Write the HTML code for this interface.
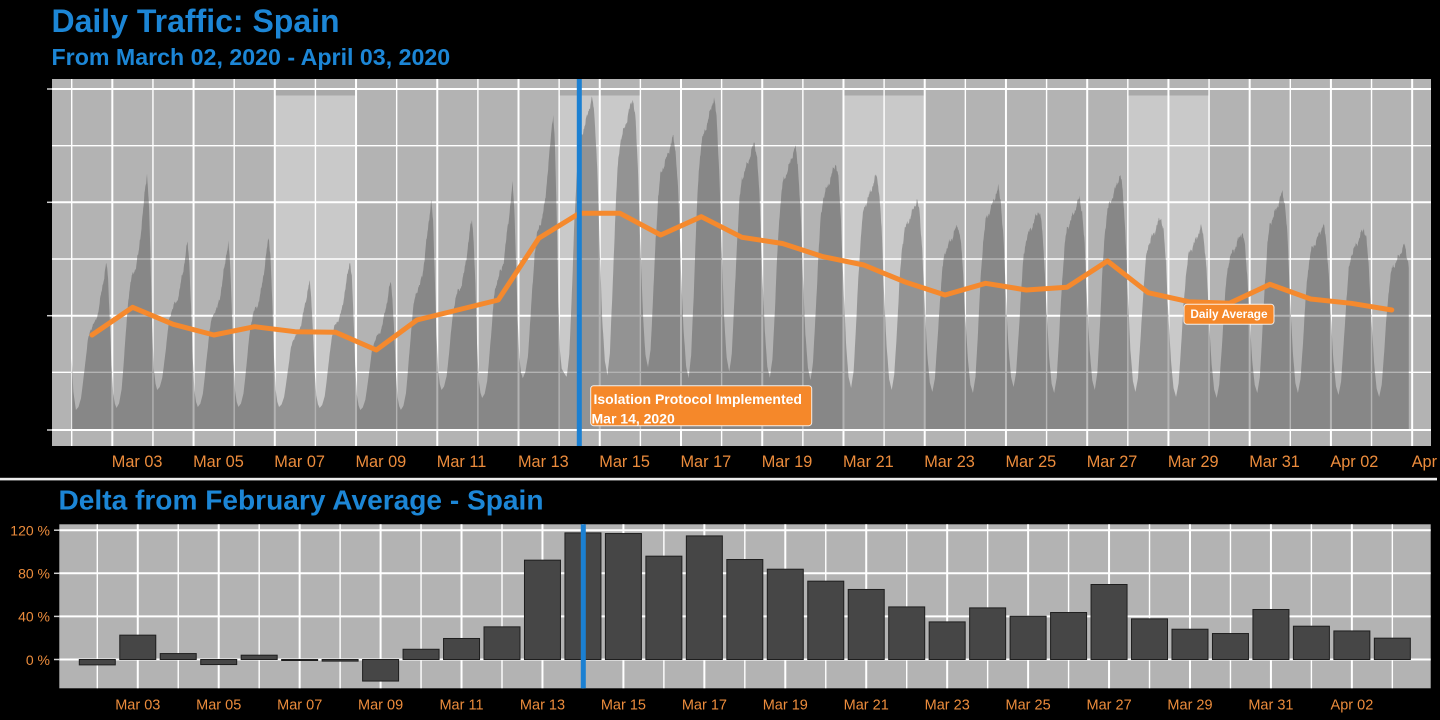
<!DOCTYPE html>
<html>
<head>
<meta charset="utf-8">
<style>
  html,body{margin:0;padding:0;background:#000;}
  body{width:1440px;height:720px;overflow:hidden;}
  svg{display:block;}
  text{font-family:"Liberation Sans",Arial,sans-serif;}
</style>
</head>
<body>
<svg id="s" width="1440" height="720" viewBox="0 0 1440 720" xmlns="http://www.w3.org/2000/svg">
  <rect x="0" y="0" width="1440" height="720" fill="#000"/>

  <!-- Titles -->
  <text x="51.5" y="32" font-size="32" font-weight="bold" fill="#1c86d6">Daily Traffic: Spain</text>
  <text x="51.5" y="65" font-size="23.2" font-weight="bold" fill="#1c86d6">From March 02, 2020 - April 03, 2020</text>

  <!-- Top panel -->
  <rect x="52" y="79" width="1379" height="367" fill="#b3b3b3"/>
  <g id="topg"></g>

  <!-- Daily average line -->
  <polyline fill="none" stroke="#f5892d" stroke-width="5" stroke-linejoin="round" stroke-linecap="round"
    points="92,335 132.6,307.3 173.2,324.3 213.9,335 254.5,326.7 295.1,331.7 335.7,332.3 376.3,350 417,320 457.6,310 498.2,300 538.8,238.3 579.4,213.3 620,213.3 660.7,235 701.3,216.7 741.9,237.3 782.5,243.5 823.2,256.7 863.8,265 904.4,281.7 945,295 985.6,283.3 1026.3,290 1066.9,287.3 1107.5,261 1148.1,292.7 1188.7,301.7 1229.4,303.3 1270,284.3 1310.6,299 1351.2,303.3 1391.8,310"/>

  <!-- Isolation line top -->
  <rect x="576.8" y="79" width="5" height="367" fill="#1b80d2"/>

  <!-- Annotation -->
  <rect x="590.7" y="385.7" width="221" height="40" rx="3" ry="3" fill="#f5882a" stroke="#ffffff" stroke-opacity="0.85" stroke-width="1"/>
  <text x="593.5" y="404" font-size="14" font-weight="bold" fill="#ffffff">Isolation Protocol Implemented</text>
  <text x="591.5" y="423.3" font-size="14" font-weight="bold" fill="#ffffff">Mar 14, 2020</text>

  <rect x="1184" y="304.3" width="90" height="20" rx="3" ry="3" fill="#f5882a" stroke="#ffffff" stroke-opacity="0.85" stroke-width="1"/>
  <text x="1229" y="318.2" font-size="11.8" font-weight="bold" fill="#ffffff" text-anchor="middle">Daily Average</text>

  <!-- Top x labels -->
  <g font-size="16.3" fill="#ec8c3c">
    <text x="111.8" y="467">Mar 03</text>
    <text x="193.1" y="467">Mar 05</text>
    <text x="274.3" y="467">Mar 07</text>
    <text x="355.5" y="467">Mar 09</text>
    <text x="436.8" y="467">Mar 11</text>
    <text x="518" y="467">Mar 13</text>
    <text x="599.3" y="467">Mar 15</text>
    <text x="680.5" y="467">Mar 17</text>
    <text x="761.7" y="467">Mar 19</text>
    <text x="843" y="467">Mar 21</text>
    <text x="924.2" y="467">Mar 23</text>
    <text x="1005.5" y="467">Mar 25</text>
    <text x="1086.7" y="467">Mar 27</text>
    <text x="1167.9" y="467">Mar 29</text>
    <text x="1249.2" y="467">Mar 31</text>
    <text x="1330.4" y="467">Apr 02</text>
    <text x="1411.7" y="467">Apr 04</text>
  </g>

  <!-- Separator -->
  <rect x="0" y="477.8" width="1437" height="2.6" fill="#ececec"/>

  <!-- Bottom title -->
  <text x="58.5" y="509.5" font-size="28.1" font-weight="bold" fill="#1c86d6">Delta from February Average - Spain</text>

  <!-- Bottom panel -->
  <rect x="59.3" y="524.3" width="1371.4" height="164" fill="#b3b3b3"/>
  <g id="botg"></g>
  <rect x="580.8" y="524.3" width="5" height="164" fill="#1b80d2"/>

  <!-- Bottom y labels -->
  <g font-size="14" fill="#ec8c3c" text-anchor="end">
    <text x="50" y="535.5">120 %</text>
    <text x="50" y="578.6">80 %</text>
    <text x="50" y="621.7">40 %</text>
    <text x="50" y="664.8">0 %</text>
  </g>

  <!-- Bottom x labels -->
  <g font-size="14.5" fill="#ec8c3c" text-anchor="middle">
    <text x="137.8" y="709.5">Mar 03</text>
    <text x="218.7" y="709.5">Mar 05</text>
    <text x="299.7" y="709.5">Mar 07</text>
    <text x="380.6" y="709.5">Mar 09</text>
    <text x="461.5" y="709.5">Mar 11</text>
    <text x="542.5" y="709.5">Mar 13</text>
    <text x="623.4" y="709.5">Mar 15</text>
    <text x="704.4" y="709.5">Mar 17</text>
    <text x="785.3" y="709.5">Mar 19</text>
    <text x="866.2" y="709.5">Mar 21</text>
    <text x="947.2" y="709.5">Mar 23</text>
    <text x="1028.1" y="709.5">Mar 25</text>
    <text x="1109.1" y="709.5">Mar 27</text>
    <text x="1190" y="709.5">Mar 29</text>
    <text x="1270.9" y="709.5">Mar 31</text>
    <text x="1351.9" y="709.5">Apr 02</text>
  </g>
</svg>

<script>
(function(){
  var NS='http://www.w3.org/2000/svg';
  function el(tag,attrs,parent){var e=document.createElementNS(NS,tag);for(var k in attrs)e.setAttribute(k,attrs[k]);parent.appendChild(e);return e;}

  /* ---------- TOP PANEL ---------- */
  var g=document.getElementById('topg');
  var X0=71.7, DX=40.62;
  [5,12,19,26].forEach(function(d){
    var x=X0+d*DX;
    el('rect',{x:x,y:89,width:2*DX,height:6.5,fill:'#a9a9a9'},g);
    el('rect',{x:x,y:95.5,width:2*DX,height:334.5,fill:'#c9c9c9'},g);
  });
  var hy=[89,145.7,202.3,259,315.7,372.3,430];
  hy.forEach(function(y,i){
    el('line',{x1:52,x2:1431,y1:y,y2:y,stroke:'#ffffff','stroke-width':(i%2==0)?2:1.4},g);
  });
  for(var i=0;i<=33;i++){
    var x=X0+i*DX;
    el('line',{x1:x,x2:x,y1:79,y2:446,stroke:'#ffffff','stroke-width':(i%2==1)?2:1.4},g);
  }
  [89,202.3,315.7,430].forEach(function(y){
    el('line',{x1:47,x2:52,y1:y,y2:y,stroke:'#cfcfcf','stroke-width':1.5},g);
  });

  var T=[410,408,390,407,407,407,408,410,410,390,398,378,377,375,368,378,372,378,380,388,390,392,393,387,393,390,392,397,398,393,393,395,397];
  var P=[263,173,243,242,237,282,260,282,200,218,185,113,98,98,137,98,142,147,163,175,200,225,188,210,198,175,217,227,232,192,225,228,245];
  var A={rise:[[2.5,0],[4,0.02],[5.5,0.08],[6.5,0.17],[8,0.32],[9.5,0.47],[11,0.54],[12.5,0.58],[14,0.6],[15.5,0.66],[17,0.76],[18.5,0.86],[19.5,0.94],[20.5,1]],
         drop:[[21.5,0.88],[22.5,0.62],[23.5,0.3],[24.5,0.1],[25.5,0.03]]};
  var B={rise:[[4.5,0],[6,0.08],[7.5,0.3],[9,0.55],[10.5,0.74],[12,0.84],[14,0.88],[16,0.92],[18,0.97],[19.5,1]],
         drop:[[21,0.93],[22.5,0.75],[24,0.45],[25.5,0.2],[27,0.05]]};
  var pts=[[0,358],[1,392]];
  for(var d=0;d<33;d++){
    var pr=d>=12?B:A;
    pr.rise.forEach(function(k){pts.push([d*24+k[0],T[d]+(P[d]-T[d])*k[1]]);});
    if(d<32){
      var Tn=T[d+1];
      pr.drop.forEach(function(k){pts.push([d*24+k[0],Tn+(P[d]-Tn)*k[1]]);});
    } else {
      pts.push([d*24+21.5,T[d]+(P[d]-T[d])*0.9]);
      pts.push([d*24+22,T[d]+(P[d]-T[d])*0.85]);
    }
  }
  var BASE=429;
  function xt(t){return X0+t/24*DX;}
  var path='M'+xt(0).toFixed(2)+','+BASE;
  for(var j=0;j<pts.length-1;j++){
    var a=pts[j],b=pts[j+1];
    var n=Math.max(1,Math.round((b[0]-a[0])/0.25));
    for(var m=0;m<n;m++){
      var f=m/n, t=a[0]+(b[0]-a[0])*f, y=a[1]+(b[1]-a[1])*f;
      var amp=Math.max(0,Math.min(1,(BASE-y-40)/120))*2.2;
      y+= (Math.sin(t*1.73)+0.6*Math.sin(t*4.31+1)+0.5*Math.sin(t*9.13+2))*amp;
      path+=' L'+xt(t).toFixed(2)+','+y.toFixed(2);
    }
  }
  var last=pts[pts.length-1];
  path+=' L'+xt(last[0]).toFixed(2)+','+last[1].toFixed(2)+' L'+xt(last[0]).toFixed(2)+','+BASE+' Z';
  el('path',{d:path,fill:'#4a4a4a','fill-opacity':0.42},g);

  /* ---------- BOTTOM PANEL ---------- */
  var bg=document.getElementById('botg');
  var BX0=97.3, BDX=40.47, Y0=659.5, K=1.0775;
  [530.2,573.3,616.4,659.5].forEach(function(y){
    el('line',{x1:59.3,x2:1430.7,y1:y,y2:y,stroke:'#ffffff','stroke-width':2},bg);
    el('line',{x1:54,x2:59.3,y1:y,y2:y,stroke:'#cfcfcf','stroke-width':1.5},bg);
  });
  for(var i=0;i<=32;i++){
    var x=BX0+i*BDX;
    el('line',{x1:x,x2:x,y1:524.3,y2:688.3,stroke:'#ffffff','stroke-width':(i%2==1)?2:1.4},bg);
  }
  var V=[-5,22.6,5.5,-4.7,4,-0.5,-1.5,-20,9.5,19.5,30.3,92.2,117.5,116.9,95.9,114.7,92.8,83.8,72.7,65,48.8,34.9,47.9,40.2,43.6,69.6,37.7,28.1,24.1,46.4,30.9,26.5,19.8];
  V.forEach(function(v,i){
    var x=BX0+i*BDX-18, yv=Y0-v*K;
    var y=Math.min(Y0,yv), h=Math.max(1,Math.abs(yv-Y0));
    el('rect',{x:x,y:y,width:36,height:h,fill:'#464646',stroke:'#1e1e1e','stroke-width':1},bg);
  });
})();
</script>
</body>
</html>
